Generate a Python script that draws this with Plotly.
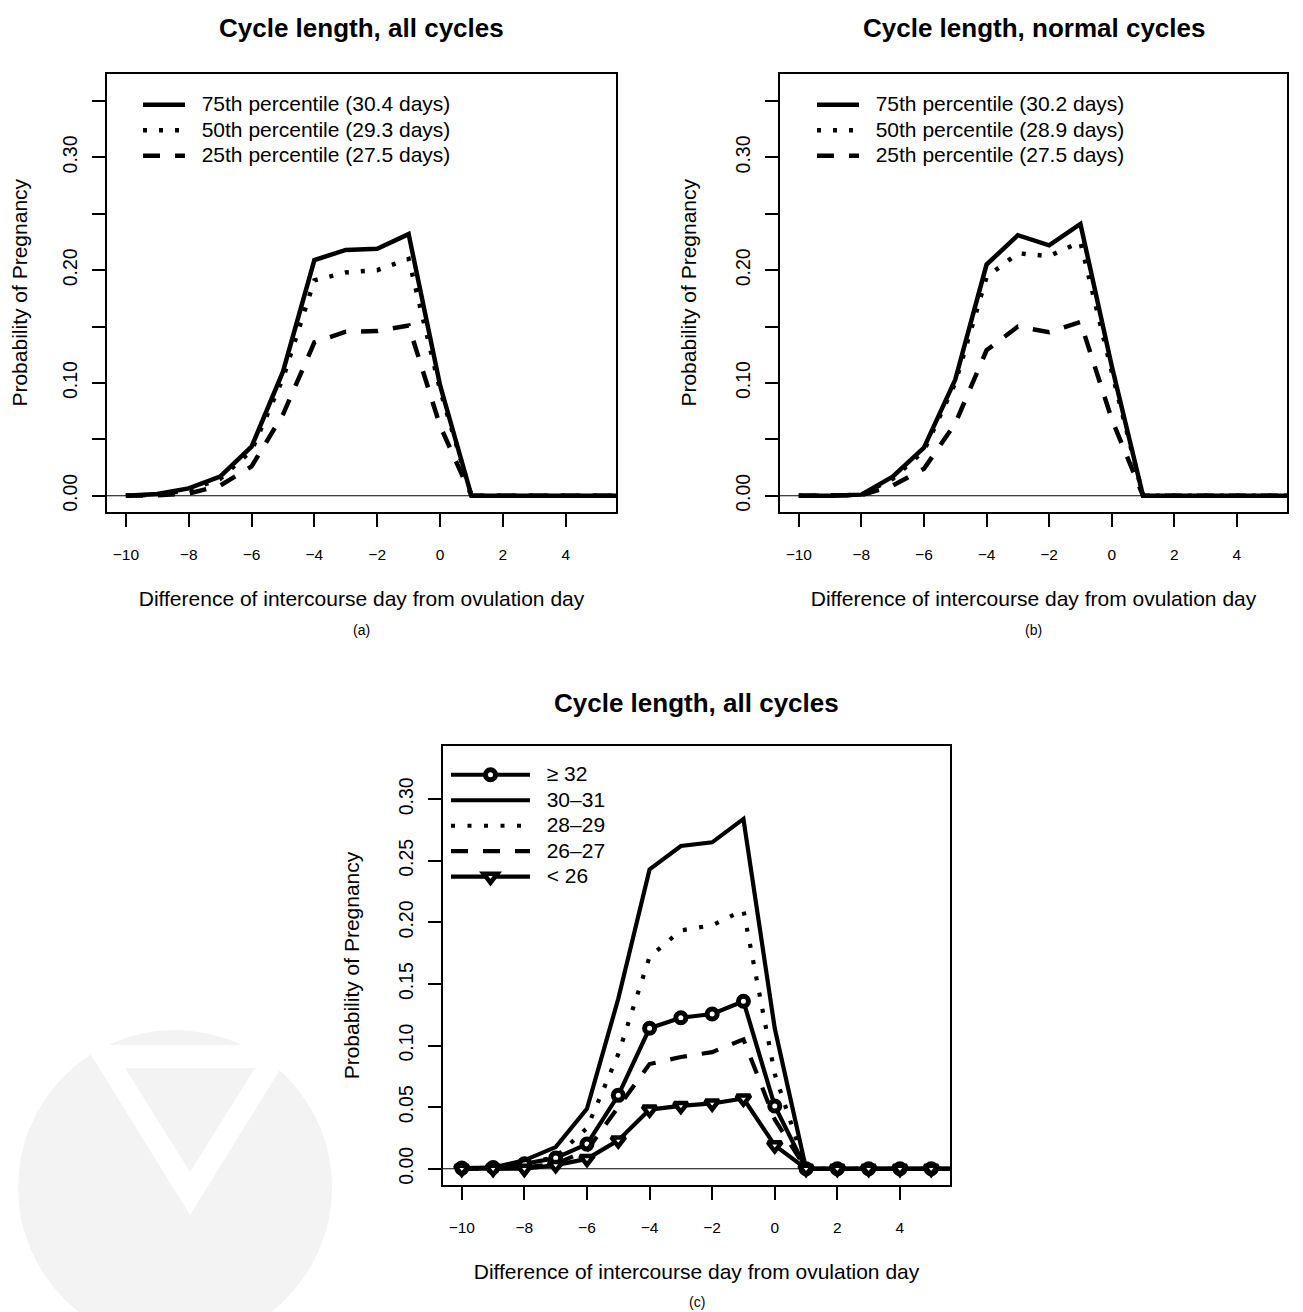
import plotly.graph_objects as go

# ---------------- data ----------------
days = [-10, -9, -8, -7, -6, -5, -4, -3, -2, -1, 0, 1, 2, 3, 4, 5, 6]

# panel (a): all cycles, percentiles of cycle length
a_names = ["75th percentile (30.4 days)", "50th percentile (29.3 days)", "25th percentile (27.5 days)"]
a_p75 = [0, 0.0015, 0.0065, 0.017, 0.0435, 0.110, 0.209, 0.218, 0.219, 0.232, 0.098, 0, 0, 0, 0, 0, 0]
a_p50 = [0, 0.0010, 0.0050, 0.015, 0.0400, 0.104, 0.191, 0.198, 0.200, 0.210, 0.094, 0, 0, 0, 0, 0, 0]
a_p25 = [0, 0.0005, 0.0020, 0.009, 0.0260, 0.072, 0.136, 0.1455, 0.146, 0.151, 0.062, 0, 0, 0, 0, 0, 0]

# panel (b): normal cycles
b_names = ["75th percentile (30.2 days)", "50th percentile (28.9 days)", "25th percentile (27.5 days)"]
b_p75 = [0, 0, 0.0010, 0.017, 0.0426, 0.103, 0.205, 0.231, 0.222, 0.241, 0.115, 0, 0, 0, 0, 0, 0]
b_p50 = [0, 0, 0.0010, 0.015, 0.0400, 0.100, 0.194, 0.215, 0.2125, 0.225, 0.110, 0, 0, 0, 0, 0, 0]
b_p25 = [0, 0, 0.0005, 0.009, 0.0240, 0.064, 0.129, 0.150, 0.145, 0.154, 0.068, 0, 0, 0, 0, 0, 0]

# panel (c): cycle-length groups
c_names = ["\u2265 32", "30\u201331", "28\u201329", "26\u201327", "< 26"]
c_ge32 = [0.0005, 0.001, 0.004, 0.0087, 0.020, 0.0596, 0.114, 0.1226, 0.1256, 0.136, 0.0509, 0, 0, 0, 0, 0, 0]
c_3031 = [0, 0.001, 0.0068, 0.0176, 0.0487, 0.138, 0.243, 0.262, 0.265, 0.284, 0.114, 0, 0, 0, 0, 0, 0]
c_2829 = [0, 0.001, 0.004, 0.0095, 0.033, 0.093, 0.172, 0.1935, 0.1976, 0.210, 0.077, 0, 0, 0, 0, 0, 0]
c_2627 = [0, 0, 0.001, 0.004, 0.015, 0.050, 0.085, 0.0907, 0.0947, 0.105, 0.040, 0, 0, 0, 0, 0, 0]
c_lt26 = [0, 0, 0, 0.003, 0.008, 0.023, 0.048, 0.051, 0.053, 0.057, 0.019, 0, 0, 0, 0, 0, 0]

x_ticks = [-10, -8, -6, -4, -2, 0, 2, 4]
ab_yticks = [0, 0.05, 0.10, 0.15, 0.20, 0.25, 0.30, 0.35]
ab_ytext = ["0.00", "", "0.10", "", "0.20", "", "0.30", ""]
c_yticks = [0, 0.05, 0.10, 0.15, 0.20, 0.25, 0.30]
c_ytext = ["0.00", "0.05", "0.10", "0.15", "0.20", "0.25", "0.30"]

titles = ["Cycle length, all cycles", "Cycle length, normal cycles", "Cycle length, all cycles"]
x_title = "Difference of intercourse day from ovulation day"
y_title = "Probability of Pregnancy"

# ---------------- layout helpers (pixel -> paper) ----------------
OFF = 8
W, H = 1295, 1304


def fx(px):
    return (px - OFF) / W


def fy(py):
    return 1 - (py - OFF) / H


FONT = "Liberation Sans, Arial, Helvetica, sans-serif"
DOT_AB = "4px,12px"
DASH_AB = "17px,15px"
DOT_C = "4px,12.5px"
DASH_C = "17px,15px"


def lname(txt):
    return '<span style="font-size:21px">\u00a0\u00a0' + txt + '</span>'


fig = go.Figure()

# panel (a)
for name, vals, dash in zip(a_names, [a_p75, a_p50, a_p25], ["solid", DOT_AB, DASH_AB]):
    fig.add_trace(go.Scatter(x=days, y=vals, mode="lines", name=lname(name),
                             line=dict(color="black", width=4.5, dash=dash),
                             xaxis="x", yaxis="y", legend="legend"))
# panel (b)
for name, vals, dash in zip(b_names, [b_p75, b_p50, b_p25], ["solid", DOT_AB, DASH_AB]):
    fig.add_trace(go.Scatter(x=days, y=vals, mode="lines", name=lname(name),
                             line=dict(color="black", width=4.5, dash=dash),
                             xaxis="x2", yaxis="y2", legend="legend2"))
# panel (c)
c_vals = [c_ge32, c_3031, c_2829, c_2627, c_lt26]
c_dash = ["solid", "solid", DOT_C, DASH_C, "solid"]
c_sym = ["circle", None, None, None, "triangle-down"]
for name, vals, dash, sym in zip(c_names, c_vals, c_dash, c_sym):
    if sym is None:
        fig.add_trace(go.Scatter(x=days, y=vals, mode="lines", name=lname(name),
                                 line=dict(color="black", width=4.2, dash=dash),
                                 xaxis="x3", yaxis="y3", legend="legend3"))
    else:
        fig.add_trace(go.Scatter(x=days, y=vals, mode="lines+markers", name=lname(name),
                                 line=dict(color="black", width=4.2, dash=dash),
                                 marker=dict(symbol=sym, size=10 if sym == "circle" else 12,
                                             color="white",
                                             line=dict(color="black", width=5 if sym == "circle" else 4.5)),
                                 xaxis="x3", yaxis="y3", legend="legend3"))

axis_common = dict(showline=True, linewidth=2, linecolor="black", mirror=True,
                   ticks="outside", ticklen=13, tickwidth=1.5, tickcolor="black",
                   showgrid=False, zeroline=False)

xaxis_common = dict(axis_common, range=[-10.6, 5.6], tickmode="array", tickvals=x_ticks,
                    tickfont=dict(family=FONT, size=15.5, color="black"),
                    ticklabelstandoff=14,
                    title=dict(text=x_title, font=dict(family=FONT, size=21, color="black"),
                               standoff=30))


def yaxis_def(rng, tv, tt, dom, anchor):
    return dict(axis_common, range=rng, tickmode="array", tickvals=tv, ticktext=tt,
                tickangle=-90, domain=dom, anchor=anchor,
                tickfont=dict(family=FONT, size=19.5, color="black"),
                ticklabelstandoff=7,
                title=dict(text=y_title, font=dict(family=FONT, size=21, color="black"),
                           standoff=30))


ab_range = [-0.0144, 0.3744]
c_range = [-0.0132, 0.3432]
dom_ab_y = [fy(512), fy(73.5)]
dom_c_y = [fy(1185), fy(746)]

legend_common = dict(font=dict(family=FONT, size=17.3, color="black"), bgcolor="rgba(0,0,0,0)",
                     borderwidth=0, xanchor="left", yanchor="top", tracegroupgap=0)

fig.update_layout(
    width=W, height=H,
    margin=dict(l=0, r=0, t=0, b=0),
    paper_bgcolor="white", plot_bgcolor="white",
    font=dict(family=FONT, color="black"),
    xaxis=dict(xaxis_common, domain=[fx(107), fx(616)], anchor="y"),
    yaxis=yaxis_def(ab_range, ab_yticks, ab_ytext, dom_ab_y, "x"),
    xaxis2=dict(xaxis_common, domain=[fx(780), fx(1287)], anchor="y2"),
    yaxis2=yaxis_def(ab_range, ab_yticks, ab_ytext, dom_ab_y, "x2"),
    xaxis3=dict(xaxis_common, domain=[fx(443), fx(950)], anchor="y3"),
    yaxis3=yaxis_def(c_range, c_yticks, c_ytext, dom_c_y, "x3"),
    legend=dict(legend_common, x=fx(138), y=fy(87), itemwidth=42),
    legend2=dict(legend_common, x=fx(812), y=fy(87), itemwidth=42),
    legend3=dict(legend_common, x=fx(446), y=fy(757), itemwidth=79),
    showlegend=True,
)

# zero reference lines (abline h = 0)
for xr, yr in [("x domain", "y"), ("x2 domain", "y2"), ("x3 domain", "y3")]:
    fig.add_shape(type="line", xref=xr, yref=yr, x0=0, x1=1, y0=0, y1=0,
                  line=dict(color="black", width=1.2), layer="below")

# faint watermark logo (bottom-left)
WM = "#f3f3f3"
fig.add_shape(type="circle", xref="paper", yref="paper",
              x0=fx(18), x1=fx(332), y0=fy(1345), y1=fy(1030),
              fillcolor=WM, line=dict(width=0), layer="below")
fig.add_shape(type="path", xref="paper", yref="paper",
              path="M {} {} L {} {} L {} {} Z".format(fx(85), fy(1045), fx(295), fy(1045), fx(190), fy(1215)),
              fillcolor="white", line=dict(width=0), layer="below")
fig.add_shape(type="path", xref="paper", yref="paper",
              path="M {} {} L {} {} L {} {} Z".format(fx(125), fy(1068), fx(255), fy(1068), fx(190), fy(1172)),
              fillcolor=WM, line=dict(width=0), layer="below")

# panel titles and sub-labels
for txt, cx, cy in [(titles[0], 361.5, 28), (titles[1], 1033.5, 28), (titles[2], 696.5, 703)]:
    fig.add_annotation(text="<b>" + txt + "</b>", x=fx(cx), y=fy(cy), xref="paper", yref="paper",
                       showarrow=False, xanchor="center", yanchor="middle",
                       font=dict(family=FONT, size=26, color="black"))
for txt, cx, cy in [("(a)", 361.5, 630), ("(b)", 1033.5, 630), ("(c)", 696.5, 1302)]:
    fig.add_annotation(text=txt, x=fx(cx), y=fy(cy), xref="paper", yref="paper",
                       showarrow=False, xanchor="center", yanchor="middle",
                       font=dict(family=FONT, size=14, color="black"))

fig.write_html("out.html")
